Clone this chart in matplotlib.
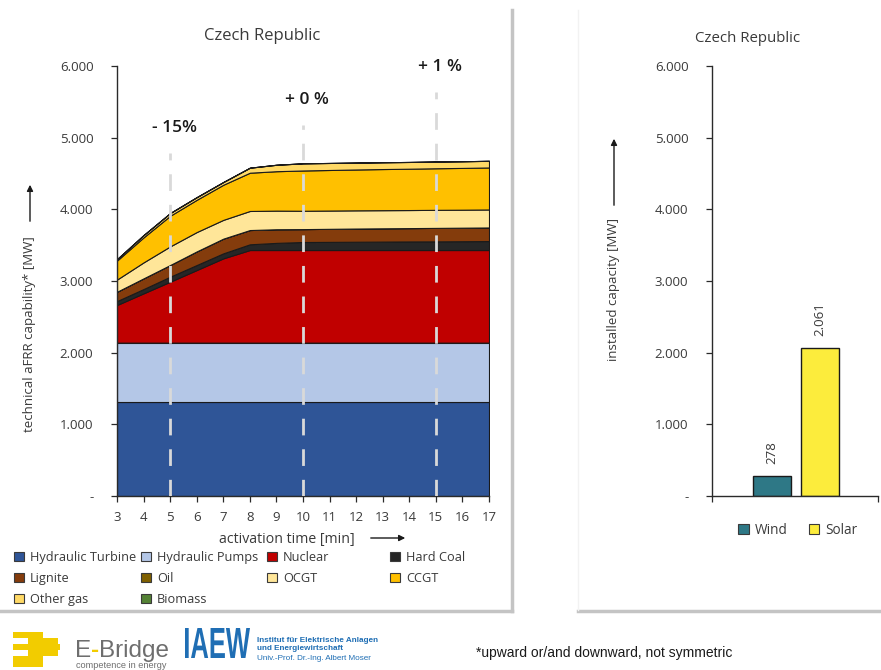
import matplotlib
matplotlib.use("Agg")
import matplotlib.pyplot as plt
from matplotlib.patches import Patch, Rectangle, FancyArrowPatch, PathPatch
from matplotlib.lines import Line2D
from matplotlib.textpath import TextPath
from matplotlib.font_manager import FontProperties
from matplotlib.transforms import Affine2D

plt.rcParams['font.family'] = ['Open Sans', 'DejaVu Sans']

# ---- data -------------------------------------------------------------
minutes = [3, 4, 5, 6, 7, 8, 9, 10, 11, 12, 13, 14, 15, 16, 17]
hydraulic_turbine = [1310] * 15
hydraulic_pumps = [830] * 15
nuclear = [525, 688, 850, 1013, 1176, 1292, 1292, 1292, 1292, 1292, 1292, 1292, 1292, 1292, 1292]
hard_coal = [55, 60, 70, 70, 70, 80, 100, 112, 114, 116, 118, 120, 121, 123, 125]
lignite = [130, 149, 163, 190, 205, 199, 190, 180, 182, 184, 185, 186, 188, 189, 190]
oil = [0] * 15
ocgt = [170, 223, 260, 270, 262, 266, 260, 256, 255, 254, 253, 252, 252, 251, 251]
ccgt = [265, 349, 427, 450, 490, 534, 550, 562, 566, 570, 574, 577, 580, 583, 586]
other_gas = [20, 32, 38, 37, 38, 70, 90, 100, 98, 96, 95, 94, 94, 93, 93]
biomass = [0] * 15

tech_names = ["Hydraulic Turbine", "Hydraulic Pumps", "Nuclear", "Hard Coal", "Lignite",
              "Oil", "OCGT", "CCGT", "Other gas", "Biomass"]
tech_colors = ["#2F5597", "#B4C7E7", "#C00000", "#262626", "#843C0C",
               "#7F6000", "#FFE699", "#FFC000", "#FFD966", "#548235"]

change_minutes = [5, 10, 15]
change_labels = ["- 15%", "+ 0 %", "+ 1 %"]
change_line_tops = [4790, 5180, 5640]

res_names = ["Wind", "Solar"]
res_values = [278, 2061]
res_colors = ["#2E7886", "#FCEC3C"]

y_ticks = [0, 1000, 2000, 3000, 4000, 5000, 6000]
y_tick_labels = ["-", "1.000", "2.000", "3.000", "4.000", "5.000", "6.000"]

# ---- figure -----------------------------------------------------------
W, H = 881, 670
fig = plt.figure(figsize=(W / 100, H / 100), dpi=100)
fig.patch.set_facecolor("white")


def fx(x):
    return x / W


def fy(y):
    return 1 - y / H


txt = "#3A3A3A"
logo_font = ["Liberation Sans", "DejaVu Sans"]

# panel shadows
shadow = "#C4C4C4"
fig.add_artist(Line2D([fx(512), fx(512)], [fy(10), fy(611)], color=shadow, lw=2.5,
                      transform=fig.transFigure))
fig.add_artist(Line2D([fx(0), fx(512)], [fy(611), fy(611)], color=shadow, lw=2.5,
                      transform=fig.transFigure))
fig.add_artist(Line2D([fx(578), fx(881)], [fy(611), fy(611)], color=shadow, lw=2.5,
                      transform=fig.transFigure))
fig.add_artist(Line2D([fx(578), fx(578)], [fy(10), fy(610)], color="#F2F2F2", lw=1,
                      transform=fig.transFigure))

# ---- left: stacked technical capability -------------------------------
ax = fig.add_axes([fx(117), fy(496), (489 - 117) / W, (496 - 66) / H])
series = [hydraulic_turbine, hydraulic_pumps, nuclear, hard_coal, lignite,
          oil, ocgt, ccgt, other_gas, biomass]
ax.stackplot(minutes, *series, colors=tech_colors, edgecolor="#1A1A1A", linewidth=0.8)
ax.set_xlim(3, 17)
ax.set_ylim(0, 6000)
ax.set_xticks(minutes)
ax.set_xticklabels([str(m) for m in minutes])
ax.set_yticks(y_ticks)
ax.set_yticklabels(y_tick_labels)
for s in ["top", "right"]:
    ax.spines[s].set_visible(False)
for s in ["left", "bottom"]:
    ax.spines[s].set_color("#2A2A2A")
    ax.spines[s].set_linewidth(1.0)
ax.tick_params(direction="out", length=4, width=0.9, color="#2A2A2A",
               labelsize=9.5, labelcolor=txt, pad=7)
ax.tick_params(axis="y", pad=13)

for m, lab, top in zip(change_minutes, change_labels, change_line_tops):
    ax.plot([m, m], [0, top], color="#D9D9D9", lw=2, dashes=(6, 5), zorder=5)
    ax.text(m + 0.15, top + 230, lab, ha="center", va="bottom", fontsize=12.5,
            fontweight="semibold", color="#1A1A1A")

fig.text(fx(262), fy(36), "Czech Republic", ha="center", va="center", fontsize=12, color=txt)
fig.text(fx(287), fy(539), "activation time [min]", ha="center", va="center", fontsize=10.2, color=txt)
fig.add_artist(FancyArrowPatch(
    (fx(368), fy(538)), (fx(408), fy(538)), transform=fig.transFigure,
    arrowstyle="-|>", mutation_scale=9, lw=1, color="#1A1A1A"))
fig.text(fx(30), fy(334), "technical aFRR capability* [MW]", rotation=90,
         ha="center", va="center", fontsize=9.5, color=txt)
fig.add_artist(FancyArrowPatch(
    (fx(30), fy(224)), (fx(30), fy(182)), transform=fig.transFigure,
    arrowstyle="-|>", mutation_scale=9, lw=1, color="#1A1A1A"))

# legend laid out in four fixed columns, filled row by row
handles = [Patch(facecolor=c, edgecolor="#3A3A3A", linewidth=0.8) for c in tech_colors]
col_x = [14, 141, 267, 390]
for ci, cx in enumerate(col_x):
    idx = list(range(ci, len(tech_names), 4))
    leg = fig.legend([handles[i] for i in idx], [tech_names[i] for i in idx],
                     loc="upper left", bbox_to_anchor=(fx(cx), fy(551)),
                     frameon=False, fontsize=9.2, handlelength=0.8, handleheight=0.8,
                     handletextpad=0.45, labelspacing=0.62, borderaxespad=0, borderpad=0)
    for t in leg.get_texts():
        t.set_color(txt)

# ---- right: installed renewable capacity ------------------------------
ax2 = fig.add_axes([fx(712), fy(496), (878 - 712) / W, (496 - 66) / H])
pos = list(range(len(res_values)))
ax2.bar(pos, res_values, width=0.81, color=res_colors, edgecolor="#1A1A1A", linewidth=1.0)
ax2.set_xlim(-1.25, 2.21)
ax2.set_ylim(0, 6000)
ax2.set_xticks([-1.25, 2.21])
ax2.set_xticklabels(["", ""])
ax2.set_yticks(y_ticks)
ax2.set_yticklabels(y_tick_labels)
for s in ["top", "right"]:
    ax2.spines[s].set_visible(False)
for s in ["left", "bottom"]:
    ax2.spines[s].set_color("#2A2A2A")
    ax2.spines[s].set_linewidth(1.0)
ax2.tick_params(direction="out", length=4, width=0.9, color="#2A2A2A",
                labelsize=9.5, labelcolor=txt, pad=13)
for p, v in zip(pos, res_values):
    ax2.annotate(f"{v:,}".replace(",", "."), (p, v), xytext=(0, 9), textcoords="offset points",
                 rotation=90, ha="center", va="bottom", fontsize=9.5, color=txt)

fig.text(fx(748), fy(39), "Czech Republic", ha="center", va="center", fontsize=10.8, color=txt)
fig.text(fx(614), fy(290), "installed capacity [MW]", rotation=90,
         ha="center", va="center", fontsize=9.5, color=txt)
fig.add_artist(FancyArrowPatch(
    (fx(614), fy(208)), (fx(614), fy(136)), transform=fig.transFigure,
    arrowstyle="-|>", mutation_scale=9, lw=1, color="#1A1A1A"))
rleg = fig.legend([Patch(facecolor=c, edgecolor="#3A3A3A", linewidth=0.8) for c in res_colors],
                  res_names, loc="center", bbox_to_anchor=(fx(798), fy(530)), ncol=2,
                  frameon=False, fontsize=9.8, handlelength=0.8, handleheight=0.8,
                  handletextpad=0.45, columnspacing=1.5, borderpad=0)
for t in rleg.get_texts():
    t.set_color(txt)

# ---- footer -----------------------------------------------------------
yellow = "#F2CC00"
for (x0, y0, w, h) in [(13, 632, 30, 6), (28, 638, 30, 6), (13, 644, 20, 6),
                       (33, 644, 27, 6), (28, 650, 30, 6), (13, 656, 30, 6),
                       (13, 662, 30, 5)]:
    fig.add_artist(Rectangle((fx(x0), fy(y0 + h)), w / W, h / H, transform=fig.transFigure,
                             facecolor=yellow, edgecolor="none"))

renderer = fig.canvas.get_renderer()
x_cur = fx(75)
for piece, col in [("E", "#6E6E6E"), ("-", yellow), ("Bridge", "#6E6E6E")]:
    t = fig.text(x_cur, fy(657), piece, ha="left", va="baseline", fontsize=17.5, color=col,
                 family=logo_font, fontweight="bold" if piece == "-" else "normal")
    bb = t.get_window_extent(renderer=renderer)
    x_cur += bb.width / W
fig.text(fx(76), fy(665.5), "competence in energy", ha="left", va="center", fontsize=6.6,
         color="#6E6E6E", family=logo_font)


def stretched_text(s, box, color, weight):
    """Draw text as a path scaled to fill a pixel box (x0, y_top, x1, y_bottom)."""
    tp = TextPath((0, 0), s, size=10, prop=FontProperties(family=logo_font, weight=weight))
    ext = tp.get_extents()
    x0, yt, x1, yb = box
    sx = (x1 - x0) / ext.width
    sy = (yb - yt) / ext.height
    tr = (Affine2D().translate(-ext.x0, -ext.y0).scale(sx / W, sy / H)
          .translate(fx(x0), fy(yb)) + fig.transFigure)
    fig.add_artist(PathPatch(tp, transform=tr, facecolor=color, edgecolor="none"))


blue = "#1F6EB4"
stretched_text("IAEW", (185, 628, 250, 658), blue, "bold")
fig.text(fx(257), fy(640.5), "Institut für Elektrische Anlagen", ha="left", va="center",
         fontsize=5.9, color=blue, fontweight="bold", family=logo_font)
fig.text(fx(257), fy(649), "und Energiewirtschaft", ha="left", va="center",
         fontsize=5.9, color=blue, fontweight="bold", family=logo_font)
fig.text(fx(257), fy(658), "Univ.-Prof. Dr.-Ing. Albert Moser", ha="left", va="center",
         fontsize=5.9, color=blue, family=logo_font)

fig.text(fx(476), fy(653), "*upward or/and downward, not symmetric", ha="left", va="center",
         fontsize=10, color="#1A1A1A", family=logo_font)

fig.savefig("out.png", dpi=100, facecolor="white")
